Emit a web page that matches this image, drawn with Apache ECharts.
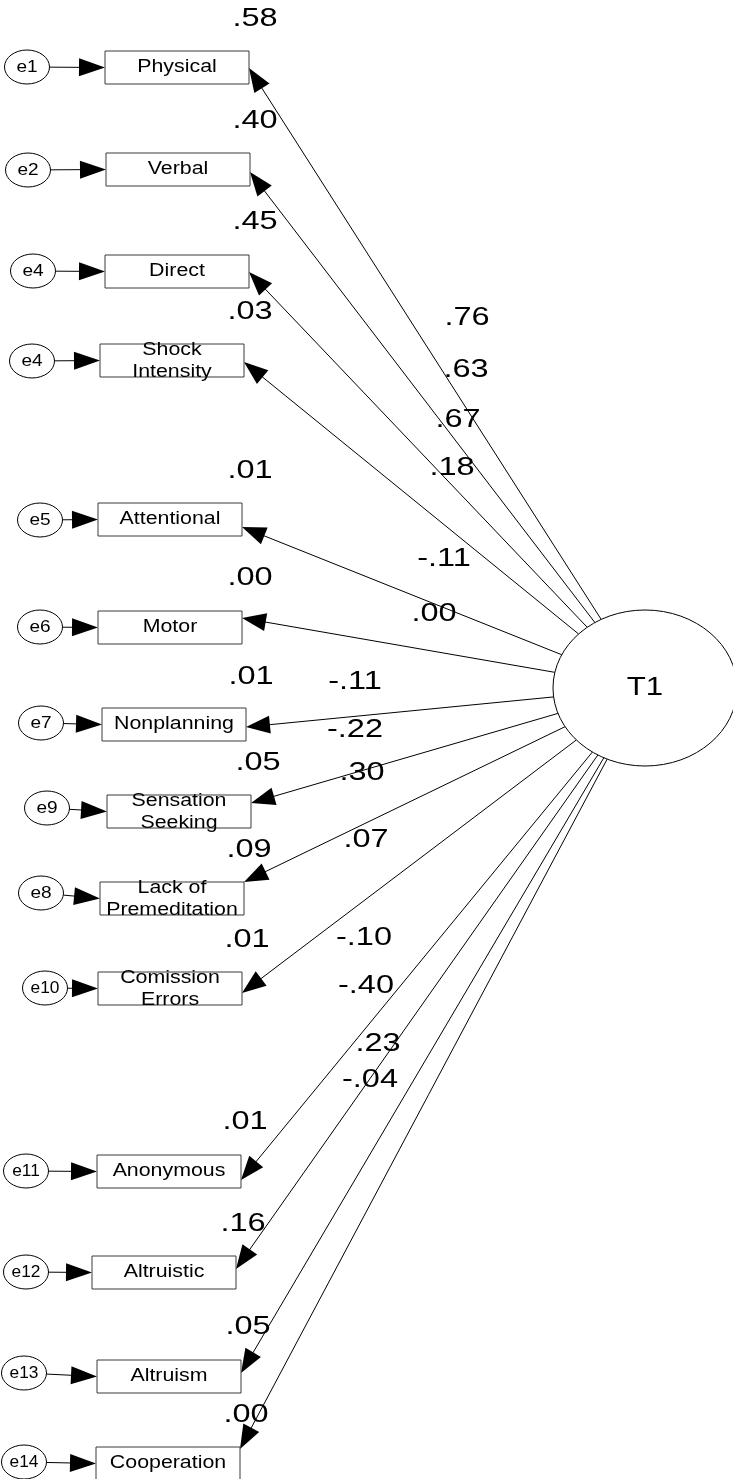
<!DOCTYPE html>
<html>
<head>
<meta charset="utf-8">
<title>T1 path diagram</title>
<script src="https://cdn.jsdelivr.net/npm/echarts@6/dist/echarts.min.js"></script>
<style>
    html, body { margin: 0; padding: 0; background: #fff; }
    #pathChart { width: 733px; height: 1479px; }
</style>
</head>
<body>
<div id="pathChart"></div>
<script>
// 观测变量 / 误差项 / 标准化载荷 / R²
var indicators = ['Physical', 'Verbal', 'Direct', 'Shock\nIntensity', 'Attentional', 'Motor', 'Nonplanning',
    'Sensation\nSeeking', 'Lack of\nPremeditation', 'Comission\nErrors', 'Anonymous', 'Altruistic', 'Altruism', 'Cooperation'];
var errors = ['e1', 'e2', 'e4', 'e4', 'e5', 'e6', 'e7', 'e9', 'e8', 'e10', 'e11', 'e12', 'e13', 'e14'];
var loadings = ['.76', '.63', '.67', '.18', '-.11', '.00', '-.11', '-.22', '.30', '.07', '-.10', '-.40', '.23', '-.04'];
var rSquared = ['.58', '.40', '.45', '.03', '.01', '.00', '.01', '.05', '.09', '.01', '.01', '.16', '.05', '.00'];
var latentName = 'T1';

// 版面位置（画布像素坐标，y 向下）
var boxLeft = [105, 106, 105, 100, 98, 98, 102, 107, 100, 98, 97, 92, 97, 96];
var boxTop = [51, 153, 255, 344, 503, 611, 708, 795, 882, 972, 1155, 1256, 1360, 1447];
var tipY = [68, 172, 272, 362, 527, 618, 727, 803, 882, 993, 1180, 1269, 1373, 1449];
var errX = [27, 28, 33, 32, 40, 40, 41, 47, 41, 45, 26, 26, 24, 24];
var errY = [67, 170, 271, 361, 520, 627, 723, 808, 893, 988, 1171, 1272, 1373, 1462];
var r2X = [255, 255, 255, 250, 250, 250, 251, 258, 249, 247, 245, 243, 248, 246];
var r2Y = [19, 121, 222, 312, 471, 578, 677, 763, 850, 940, 1122, 1224, 1327, 1415];
var loadX = [467, 466, 458, 452, 444, 434, 355, 355, 362, 366, 364, 366, 378, 370];
var loadY = [318, 370, 420, 468, 559, 614, 682, 730, 773, 840, 938, 986, 1044, 1080];

var latent = { x: 645, y: 688, rx: 92, ry: 78 };
var boxW = 144, boxH = 33;
var errRx = 22.5, errRy = 17;

var FONT = 'Arial, "Liberation Sans", sans-serif';

// 椭圆边界上朝向目标点的交点
function ellipseEdge(cx, cy, rx, ry, tx, ty) {
    var dx = tx - cx, dy = ty - cy;
    var t = 1 / Math.sqrt(dx * dx / (rx * rx) + dy * dy / (ry * ry));
    return [cx + dx * t, cy + dy * t];
}

// 箭头：线段 + 实心三角
function arrowEls(from, tip, len, half) {
    var dx = tip[0] - from[0], dy = tip[1] - from[1];
    var d = Math.sqrt(dx * dx + dy * dy);
    var ux = dx / d, uy = dy / d;
    var bx = tip[0] - ux * len, by = tip[1] - uy * len;
    return [{
        type: 'line',
        shape: { x1: from[0], y1: from[1], x2: bx + ux * 2, y2: by + uy * 2 },
        style: { stroke: '#000', lineWidth: 1 }
    }, {
        type: 'polygon',
        shape: { points: [tip, [bx - uy * half, by + ux * half], [bx + uy * half, by - ux * half]] },
        style: { fill: '#000' }
    }];
}

// 原图文字横向拉宽，用 scaleX 模拟
function textEl(x, y, text, size, stretch, lineHeight) {
    return {
        type: 'text',
        x: x,
        y: y,
        scaleX: stretch,
        style: {
            text: text,
            fontSize: size,
            fontFamily: FONT,
            lineHeight: lineHeight || size,
            fill: '#000',
            align: 'center',
            verticalAlign: 'middle'
        }
    };
}

function pathChartRender() {
    var chart = echarts.init(document.getElementById('pathChart'));

    var rowData = indicators.map(function (name, i) {
        return { name: name, value: [boxLeft[i] + boxW / 2, boxTop[i] + boxH / 2] };
    });

    var option = {
        animation: false,
        grid: { left: 0, right: 0, top: 0, bottom: 0 },
        xAxis: { type: 'value', min: 0, max: 733, show: false },
        yAxis: { type: 'value', min: 0, max: 1479, inverse: true, show: false },
        series: [
            {
                // 各观测变量行
                type: 'custom',
                coordinateSystem: 'cartesian2d',
                clip: false,
                data: rowData,
                renderItem: function (params, api) {
                    var i = params.dataIndex;
                    var c = function (x, y) { return api.coord([x, y]); };
                    var s = api.size([1, 1]);
                    var children = [];

                    // 载荷路径 T1 -> 观测变量
                    var tip = [boxLeft[i] + boxW, tipY[i]];
                    var start = ellipseEdge(latent.x, latent.y, latent.rx, latent.ry, tip[0], tip[1]);
                    children = children.concat(arrowEls(c(start[0], start[1]), c(tip[0], tip[1]), 24, 9));

                    // 误差项 -> 观测变量
                    var eTip = [boxLeft[i], boxTop[i] + boxH / 2];
                    var eStart = ellipseEdge(errX[i], errY[i], errRx, errRy, eTip[0], eTip[1]);
                    children = children.concat(arrowEls(c(eStart[0], eStart[1]), c(eTip[0], eTip[1]), 26, 9));

                    // 方框
                    var tl = c(boxLeft[i], boxTop[i]);
                    children.push({
                        type: 'rect',
                        shape: { x: tl[0], y: tl[1], width: boxW * s[0], height: boxH * s[1] },
                        style: { fill: '#fff', stroke: '#3a3a3a', lineWidth: 1 }
                    });
                    var mid = api.coord([api.value(0), api.value(1)]);
                    var twoLine = indicators[i].indexOf('\n') > -1;
                    children.push(textEl(mid[0], mid[1] + (twoLine ? 1 : 0), indicators[i], 17.5, 1.22, 22));

                    // 误差椭圆
                    var ec = c(errX[i], errY[i]);
                    children.push({
                        type: 'ellipse',
                        shape: { cx: ec[0], cy: ec[1], rx: errRx * s[0], ry: errRy * s[1] },
                        style: { fill: '#fff', stroke: '#000', lineWidth: 1 }
                    });
                    children.push(textEl(ec[0], ec[1], errors[i], 17, errors[i].length > 2 ? 1.02 : 1.12));

                    // R² 与载荷数值
                    var rp = c(r2X[i], r2Y[i]);
                    children.push(textEl(rp[0], rp[1], rSquared[i], 25, 1.3));
                    var lp = c(loadX[i], loadY[i]);
                    children.push(textEl(lp[0], lp[1], loadings[i], 25, 1.3));

                    return { type: 'group', children: children };
                }
            },
            {
                // 潜变量 T1
                type: 'custom',
                coordinateSystem: 'cartesian2d',
                clip: false,
                data: [{ name: latentName, value: [latent.x, latent.y] }],
                renderItem: function (params, api) {
                    var p = api.coord([api.value(0), api.value(1)]);
                    var s = api.size([1, 1]);
                    return {
                        type: 'group',
                        children: [{
                            type: 'ellipse',
                            shape: { cx: p[0], cy: p[1], rx: latent.rx * s[0], ry: latent.ry * s[1] },
                            style: { fill: '#fff', stroke: '#000', lineWidth: 1 }
                        }, textEl(p[0], p[1], latentName, 26, 1.2)]
                    };
                }
            }
        ]
    };

    chart.setOption(option);
}

pathChartRender();
</script>
</body>
</html>
